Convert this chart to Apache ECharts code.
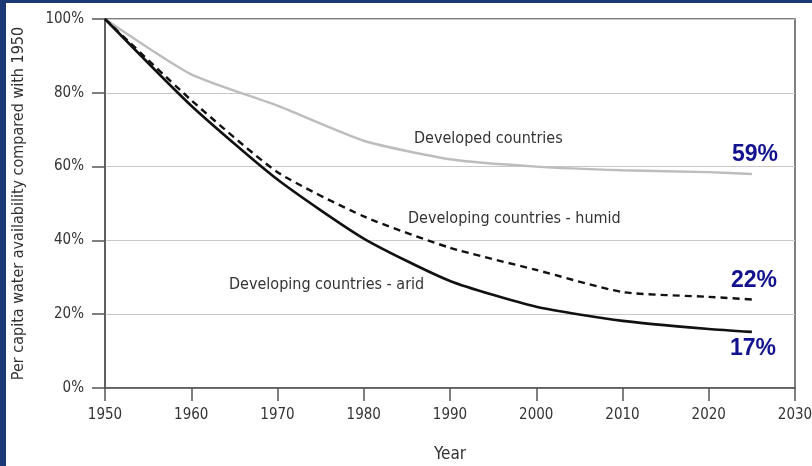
<!DOCTYPE html>
<html>
<head>
<meta charset="utf-8">
<script src="https://cdn.jsdelivr.net/npm/echarts@6/dist/echarts.min.js"></script>
<style>
html, body { margin: 0; padding: 0; background: #fff; }
#chart { width: 812px; height: 466px; }
</style>
</head>
<body>
<div id="chart"></div>
<script>
// years and values
var years = [1950, 1960, 1970, 1980, 1990, 2000, 2010, 2020, 2025];
var developed = [100, 85, 76.5, 67, 62, 60, 59, 58.5, 58];
var humid = [100, 78, 58.5, 46.5, 38, 32, 26, 24.7, 24];
var arid = [100, 76.5, 56.5, 40.5, 29, 22, 18.2, 16, 15.2];

var pairs = function (vals) {
    return years.map(function (y, i) { return [y, vals[i]]; });
};

var font = '"Liberation Sans Narrow", "DejaVu Sans Condensed", sans-serif';
var blue = '#1b3a73';
var pctFont = 'bold 23px Arial, "Liberation Sans", sans-serif';

var chart = echarts.init(document.getElementById('chart'));
var option = {
    backgroundColor: '#fff',
    animation: false,
    grid: {
        left: 105,
        top: 19,
        right: 17,
        bottom: 78,
        outerBoundsMode: 'none',
        containLabel: false,
        show: true,
        borderColor: '#555',
        borderWidth: 1.5
    },
    xAxis: {
        type: 'value',
        min: 1950,
        max: 2030,
        interval: 10,
        name: 'Year',
        nameLocation: 'middle',
        nameGap: 58,
        nameTextStyle: { fontFamily: font, fontSize: 17, color: '#333' },
        axisLine: { lineStyle: { color: '#555', width: 1.5 } },
        axisTick: { length: 13, lineStyle: { color: '#555', width: 1.5 } },
        axisLabel: {
            fontFamily: font, fontSize: 15, color: '#333', margin: 20,
            formatter: function (v) { return String(v); }
        },
        splitLine: { show: false }
    },
    yAxis: {
        type: 'value',
        min: 0,
        max: 100,
        interval: 20,
        name: 'Per capita water availability compared with 1950',
        nameLocation: 'middle',
        nameGap: 78,
        nameTextStyle: { fontFamily: font, fontSize: 16, color: '#333' },
        axisLine: { show: true, lineStyle: { color: '#555', width: 1.5 } },
        axisTick: { show: true, length: 13, lineStyle: { color: '#555', width: 1.5 } },
        axisLabel: { fontFamily: font, fontSize: 15, color: '#333', margin: 21, formatter: '{value}%' },
        splitLine: { lineStyle: { color: '#c8c8c8', width: 1 } }
    },
    series: [
        {
            name: 'Developed countries',
            type: 'line',
            data: pairs(developed),
            symbol: 'none',
            smooth: 0.2,
            lineStyle: { color: '#bdbdbd', width: 2.4 }
        },
        {
            name: 'Developing countries - humid',
            type: 'line',
            data: pairs(humid),
            symbol: 'none',
            smooth: 0.2,
            lineStyle: { color: '#111', width: 2.4, type: [7, 5] }
        },
        {
            name: 'Developing countries - arid',
            type: 'line',
            data: pairs(arid),
            symbol: 'none',
            smooth: 0.2,
            lineStyle: { color: '#111', width: 2.6 }
        }
    ],
    graphic: [
        { type: 'rect', left: 0, top: 0, shape: { width: 812, height: 3 }, style: { fill: blue } },
        { type: 'rect', left: 0, top: 0, shape: { width: 6, height: 466 }, style: { fill: blue } },
        { type: 'text', left: 414, top: 131, style: { text: 'Developed countries', font: '16px ' + font, fill: '#333' } },
        { type: 'text', left: 408, top: 211, style: { text: 'Developing countries - humid', font: '16px ' + font, fill: '#333' } },
        { type: 'text', left: 229, top: 277, style: { text: 'Developing countries - arid', font: '16px ' + font, fill: '#333' } },
        { type: 'text', left: 732, top: 143, style: { text: '59%', font: pctFont, fill: '#12128f' } },
        { type: 'text', left: 731, top: 269, style: { text: '22%', font: pctFont, fill: '#12128f' } },
        { type: 'text', left: 730, top: 337, style: { text: '17%', font: pctFont, fill: '#12128f' } }
    ]
};
chart.setOption(option);
</script>
</body>
</html>
